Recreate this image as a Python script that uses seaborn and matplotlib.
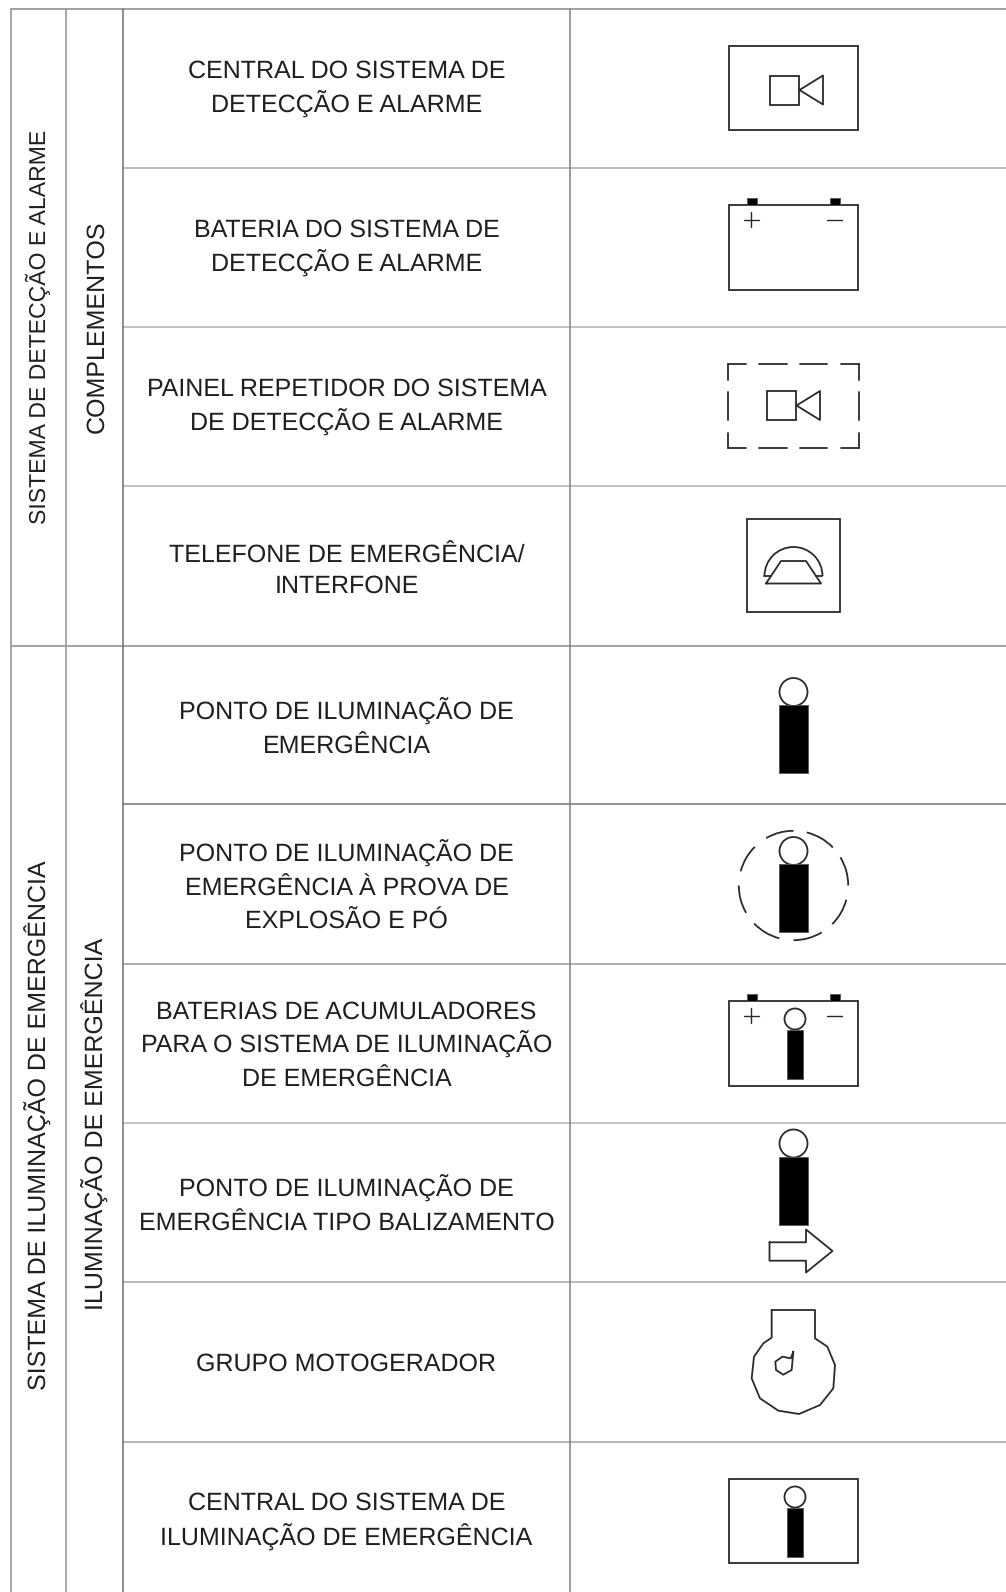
import numpy as np
import pandas as pd
import matplotlib
matplotlib.use("Agg")
import matplotlib.pyplot as plt
from matplotlib.patches import Rectangle, Circle, Arc
import seaborn as sns

sns.set_theme(style="white")
plt.rcParams['font.family'] = ['Liberation Sans', 'DejaVu Sans']
plt.rcParams['text.hinting'] = 'none'
plt.rcParams['text.hinting_factor'] = 1

group_labels = ["SISTEMA DE DETECÇÃO E ALARME", "SISTEMA DE ILUMINAÇÃO DE EMERGÊNCIA"]
subgroup_labels = ["COMPLEMENTOS", "ILUMINAÇÃO DE EMERGÊNCIA"]
row_labels = [
    ["CENTRAL DO SISTEMA DE", "DETECÇÃO E ALARME"],
    ["BATERIA DO SISTEMA DE", "DETECÇÃO E ALARME"],
    ["PAINEL REPETIDOR DO SISTEMA", "DE DETECÇÃO E ALARME"],
    ["TELEFONE DE EMERGÊNCIA/", "INTERFONE"],
    ["PONTO DE ILUMINAÇÃO DE", "EMERGÊNCIA"],
    ["PONTO DE ILUMINAÇÃO DE", "EMERGÊNCIA À PROVA DE", "EXPLOSÃO E PÓ"],
    ["BATERIAS DE ACUMULADORES", "PARA O SISTEMA DE ILUMINAÇÃO", "DE EMERGÊNCIA"],
    ["PONTO DE ILUMINAÇÃO DE", "EMERGÊNCIA TIPO BALIZAMENTO"],
    ["GRUPO MOTOGERADOR"],
    ["CENTRAL DO SISTEMA DE", "ILUMINAÇÃO DE EMERGÊNCIA"],
]
row_text_y = [
    [68.5, 103.5], [227.5, 262.5], [387, 421.5], [553.5, 584], [711, 744.5],
    [852.5, 886.5, 920], [1009.5, 1044, 1077.5], [1188, 1221.5], [1361.5], [1500.5, 1536.5],
]
row_lines = [168, 327, 486, 645.5, 804, 963.5, 1123, 1282, 1441.5]
row_line_colors = ["#a8a8a8", "#b0b0b0", "#b0b0b0", "#8c8c8c", "#777777", "#9a9a9a", "#b4b4b4", "#a8a8a8", "#a0a0a0"]
col_lines = [11, 66, 123.5, 570]
col_line_colors = ["#a0a0a0", "#a0a0a0", "#707070", "#808080"]

INK = "#2a2a2a"
fig = plt.figure(figsize=(10.06, 15.92), dpi=100, facecolor="white")
ax = fig.add_axes([0, 0, 1, 1])
W, H = 1006, 1592


def stroke(xs, ys, color=INK, lw=1.3):
    df = pd.DataFrame({"x": xs, "y": ys})
    sns.lineplot(data=df, x="x", y="y", estimator=None, sort=False,
                 color=color, linewidth=lw, ax=ax, legend=False, zorder=2)


def closed(pts, lw=1.3):
    p = list(pts) + [pts[0]]
    stroke([a for a, _ in p], [b for _, b in p], lw=lw)


def box(x0, y0, x1, y1, lw=1.3):
    ax.add_patch(Rectangle((x0, y0), x1 - x0, y1 - y0, fill=False, ec=INK, lw=lw, zorder=3))


def solid(x0, y0, x1, y1):
    ax.add_patch(Rectangle((x0, y0), x1 - x0, y1 - y0, fc="black", ec="#555555", lw=0.6, zorder=3))


def lamp(cx, cy, r, x0, y0, x1, y1):
    ax.add_patch(Circle((cx, cy), r, fill=False, ec=INK, lw=1.3, zorder=3))
    solid(x0, y0, x1, y1)


def camera(x0, y0):
    box(x0, y0, x0 + 29.5, y0 + 29)
    closed([(x0 + 29.5, y0 + 14.5), (x0 + 53, y0), (x0 + 53, y0 + 29)])


def battery(y0):
    box(729.3, y0, 857.7, y0 + 84.5)
    solid(747, y0 - 7, 757, y0)
    solid(830, y0 - 7, 840, y0)
    stroke([744, 759], [y0 + 14.5, y0 + 14.5], lw=1.0)
    stroke([751.5, 751.5], [y0 + 7, y0 + 22], lw=1.0)
    stroke([827.5, 842], [y0 + 14.5, y0 + 14.5], lw=1.0)


# grid
for yl, c in zip(row_lines, row_line_colors):
    x0 = 11 if yl == 645.5 else 123.5
    stroke([x0, W], [yl, yl], color=c, lw=1.1)
stroke([11, W], [9, 9], color="#909090", lw=1.2)
for xl, c in zip(col_lines, col_line_colors):
    stroke([xl, xl], [9, H], color=c, lw=1.3 if xl < 100 else 1.1)

# text
TXT = "#1f1f1f"
FS = 18.0
CAP = 9.0
for lines, ys in zip(row_labels, row_text_y):
    for s, y in zip(lines, ys):
        ax.text(346.5, y + CAP, s, ha="center", va="baseline", fontsize=FS, color=TXT)
side_sizes = [16.4, FS, FS, FS]
for s, x, y, fs in zip(group_labels + subgroup_labels, [38, 38, 94.5, 94.5], [326.5, 1125, 327, 1124], side_sizes):
    ax.text(x + CAP * fs / FS, y, s, ha="center", va="baseline", rotation=90,
            rotation_mode="anchor", fontsize=fs, color=TXT)

# symbols
box(729.3, 46, 857.7, 130)
camera(770, 75.5)
battery(205)

# dashed panel
for a, b in [(728.5, 746.5), (759, 787), (800, 827.5), (841, 859)]:
    stroke([a, b], [364, 364])
    stroke([a, b], [448, 448])
for a, b in [(364, 379.5), (392, 419.5), (433, 448)]:
    stroke([728.5, 728.5], [a, b])
    stroke([859, 859], [a, b])
camera(767, 391)

# telephone
box(747.5, 519, 840, 612)
ax.add_patch(Arc((793.5, 576), 58, 58, theta1=180, theta2=360, ec=INK, lw=1.3, zorder=3))
closed([(766, 583.5), (821, 583.5), (806, 561), (781, 561)])
stroke([764.5, 771], [576, 576])
stroke([816, 822.5], [576, 576])

# lamps
lamp(793.5, 692, 14, 779, 705, 808, 773)
lamp(793.5, 851, 14, 779, 864, 808, 932)
arc_spans = [(90, 120), (44, 76), (0, 31), (-45, -15), (-90, -59), (-136, -105), (-180, -150), (135, 165)]
for t0, t1 in arc_spans:
    ax.add_patch(Arc((793.5, 885.5), 109.4, 109.4, theta1=-t1, theta2=-t0, ec=INK, lw=1.3, zorder=3))

battery(1001)
lamp(795, 1019, 10.5, 787, 1029.5, 803, 1079)

lamp(793.5, 1143.5, 14, 779, 1157, 808, 1225)
closed([(769.5, 1242.3), (806, 1242.3), (806, 1229.5), (832.5, 1251), (806, 1272.5), (806, 1260.7), (769.5, 1260.7)])

# generator
zx = [215, 345, 345, 382, 405, 400, 360, 297, 235, 180, 155, 162, 190, 215]
zy = [60, 60, 145, 170, 225, 295, 345, 372, 362, 325, 265, 200, 160, 143]
closed([(700 + a / 3, 1290 + b / 3) for a, b in zip(zx, zy)])
ix = [280, 272, 247, 226, 228, 250, 275]
iy = [185, 205, 200, 215, 240, 254, 240]
closed([(700 + a / 3, 1290 + b / 3) for a, b in zip(ix, iy)])

box(729.3, 1479, 857.7, 1562.7)
lamp(795, 1497, 10.5, 787, 1507.5, 803, 1557)

ax.set_xlim(0, W)
ax.set_ylim(H, 0)
ax.axis("off")
fig.savefig("out.png", dpi=100, facecolor="white")
